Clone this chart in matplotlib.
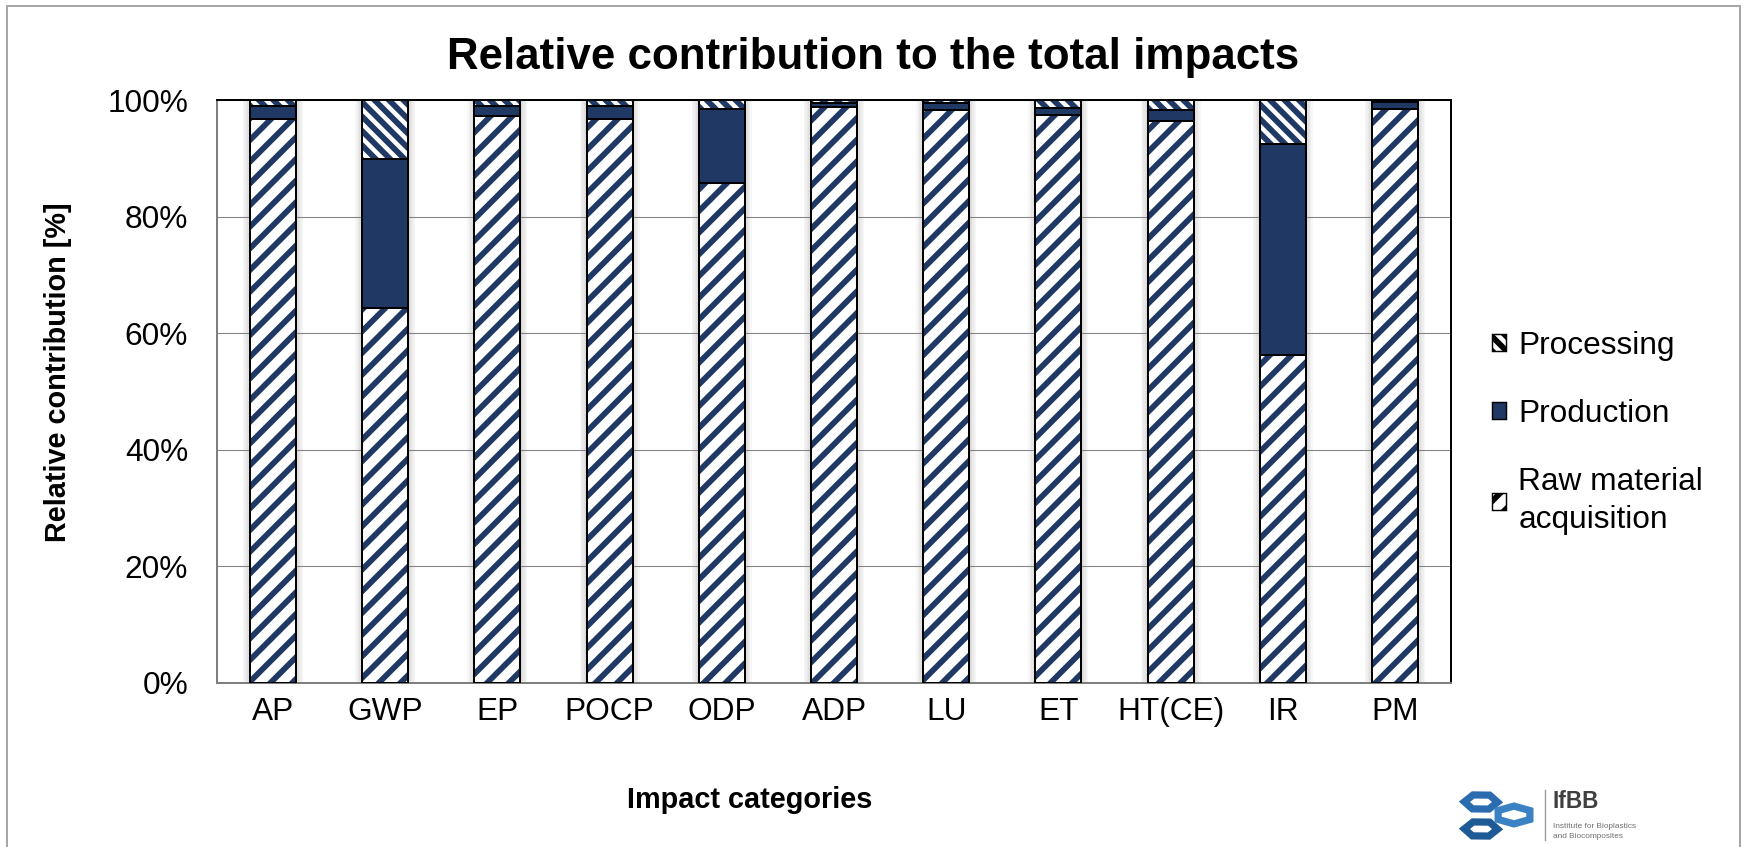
import numpy as np
import matplotlib
matplotlib.use("Agg")
from matplotlib import pyplot as plt
from matplotlib.patches import Patch, Rectangle, RegularPolygon
from matplotlib.lines import Line2D

# impact categories and stage shares in percent
categories = ["AP", "GWP", "EP", "POCP", "ODP", "ADP", "LU", "ET", "HT(CE)", "IR", "PM"]
raw_material = [96.7, 64.4, 97.3, 96.8, 85.7, 98.8, 98.3, 97.4, 96.4, 56.3, 98.5]
production = [2.3, 25.4, 1.7, 2.2, 12.7, 0.6, 1.1, 1.3, 1.9, 36.1, 1.1]
processing = [1.0, 10.2, 1.0, 1.0, 1.6, 0.6, 0.6, 1.3, 1.7, 7.6, 0.4]
y_ticks = [0, 20, 40, 60, 80, 100]

NAVY = "#1f3864"
DPI = 130
RAW_HATCH = "//"
PROC_HATCH = "\\\\\\"

plt.rcParams["font.family"] = ["Liberation Sans", "DejaVu Sans"]
plt.rcParams["hatch.linewidth"] = 3.2

fig = plt.figure(figsize=(1746 / DPI, 847 / DPI), dpi=DPI)
ax = fig.add_axes([217 / 1746, 1 - 683 / 847, 1234 / 1746, 583 / 847])

x = np.arange(len(categories))
width = 0.41
raw_material = np.array(raw_material)
production = np.array(production)
processing = np.array(processing)
totals = raw_material + production + processing

# soft shadow around the columns
for k in range(5):
    ax.bar(x, totals, width + 0.025 * (k + 1), color="#7f7f7f", alpha=0.06,
           linewidth=0, zorder=1)


def stack(vals, bottom, face, hatch):
    ax.bar(x, vals, width, bottom=bottom, facecolor=face, edgecolor=NAVY,
           hatch=hatch, linewidth=0, zorder=2)
    ax.bar(x, vals, width, bottom=bottom, fill=False, edgecolor="black",
           linewidth=1.1, zorder=3)


stack(raw_material, 0, "white", RAW_HATCH)
stack(production, raw_material, NAVY, None)
stack(processing, raw_material + production, "white", PROC_HATCH)

ax.set_xlim(-0.5, len(categories) - 0.5)
ax.set_ylim(0, 100)
ax.set_yticks(y_ticks)
ax.set_yticklabels(["%d%%" % v for v in y_ticks])
ax.set_xticks(x)
ax.set_xticklabels(categories)
ax.tick_params(axis="both", length=0, labelsize=17.5)
ax.tick_params(axis="y", pad=16)
ax.tick_params(axis="x", pad=8)
ax.yaxis.grid(True, color="#868686", linewidth=0.6)
ax.set_axisbelow(True)

for side in ["top", "right"]:
    ax.spines[side].set_color("black")
    ax.spines[side].set_linewidth(1.1)
for side in ["left", "bottom"]:
    ax.spines[side].set_color("#7f7f7f")
    ax.spines[side].set_linewidth(1.1)

ax.set_xlabel("Impact categories", fontsize=16, fontweight="bold")
ax.xaxis.set_label_coords(0.4315, -0.177)
ax.set_ylabel("Relative contribution [%]", fontsize=16, fontweight="bold")
ax.yaxis.set_label_coords(-0.1175, 0.533)

fig.text(873 / 1746, 1 - 57 / 847, "Relative contribution to the total impacts",
         fontsize=24.3, fontweight="bold", ha="center", va="center")

handles = [
    Patch(facecolor="white", edgecolor=NAVY, hatch=PROC_HATCH, linewidth=0),
    Patch(facecolor=NAVY, edgecolor=NAVY, linewidth=0),
    Patch(facecolor="white", edgecolor=NAVY, hatch=RAW_HATCH, linewidth=0),
]
labels = ["Processing", "Production", "Raw material\nacquisition"]
leg = fig.legend(handles, labels, loc="center left",
                 bbox_to_anchor=(1492 / 1746, 1 - 433 / 847),
                 frameon=False, fontsize=17.5, handlelength=0.45, handleheight=0.45,
                 handletextpad=0.38, labelspacing=1.21, borderpad=0, borderaxespad=0)
for t in leg.get_texts():
    t.set_linespacing(1.35)
for h in leg.legend_handles:
    h.set_edgecolor("black")
    h.set_linewidth(0.8)

# outer chart border
fig.add_artist(Rectangle((7 / 1746, -0.05), 1733 / 1746, 1 - 6 / 847 + 0.05,
                         transform=fig.transFigure, fill=False,
                         edgecolor="#a6a6a6", linewidth=1.1))

# institute logo, bottom right
fig.add_artist(RegularPolygon((1481 / 1746, 1 - 802 / 847), 6, radius=0.0095,
                              orientation=0.5, transform=fig.transFigure,
                              fill=False, edgecolor="#2b6cb0", linewidth=4))
fig.add_artist(RegularPolygon((1481 / 1746, 1 - 829 / 847), 6, radius=0.0095,
                              orientation=0.5, transform=fig.transFigure,
                              fill=False, edgecolor="#1d5a96", linewidth=4))
fig.add_artist(RegularPolygon((1514 / 1746, 1 - 815 / 847), 6, radius=0.0105,
                              orientation=0.0, transform=fig.transFigure,
                              fill=False, edgecolor="#3b82c4", linewidth=4))
fig.add_artist(Line2D([1545 / 1746, 1545 / 1746], [1 - 790 / 847, 1 - 840 / 847],
                      transform=fig.transFigure, color="#a0a0a0", linewidth=0.8))
fig.text(1553 / 1746, 1 - 808 / 847, "IfBB", fontsize=12.5, fontweight="bold",
         color="#404040", ha="left", va="baseline")
fig.text(1553 / 1746, 1 - 826 / 847, "Institute for Bioplastics", fontsize=4.6,
         color="#707070", ha="left", va="center")
fig.text(1553 / 1746, 1 - 837 / 847, "and Biocomposites", fontsize=4.6,
         color="#707070", ha="left", va="center")

fig.savefig("out.png", dpi=DPI, facecolor="white")
